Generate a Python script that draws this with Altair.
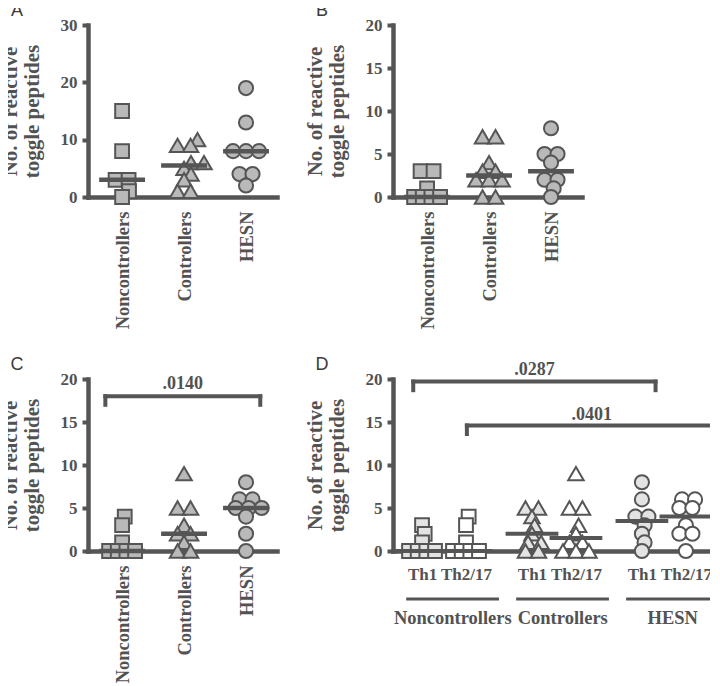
import altair as alt
import pandas as pd
import numpy as np

# ---------------- data ----------------
groups = ["Noncontrollers", "Controllers", "HESN"]
group_shapes = ["square", "triangle-up", "circle"]

A_values = [[15, 8, 3, 3, 1, 0],
            [10, 9, 9, 6, 6, 5, 4, 3, 1, 1],
            [19, 13, 8, 8, 8, 4, 4, 2]]
B_values = [[3, 3, 1, 0, 0, 0, 0],
            [7, 7, 4, 3, 3, 2, 2, 2, 0, 0],
            [8, 5, 5, 4, 2, 2, 1, 0]]
C_values = [[4, 3, 1, 0, 0, 0, 0],
            [9, 5, 5, 3, 2, 2, 1, 0, 0],
            [8, 6, 6, 5, 5, 5, 4, 2, 0]]

D_subsets = ["Th1", "Th2/17"]
D_values = [[[3, 2, 1, 0, 0, 0, 0], [4, 3, 1, 0, 0, 0, 0]],
            [[5, 5, 4, 3, 2, 1, 1, 0, 0], [9, 5, 5, 3, 2, 1, 1, 0, 0, 0]],
            [[8, 6, 4, 4, 3, 2, 1, 0], [6, 6, 5, 5, 3, 2, 2, 0]]]

A_ticks = [0, 10, 20, 30]
BCD_ticks = [0, 5, 10, 15, 20]

# significance brackets: start, end, height, drop-to, label height, label
C_brackets = {"x1": [-0.27], "x2": [2.23], "y": [18], "ydrop": [17], "ylab": [19.4], "label": [".0140"]}
D_brackets = {"x1": [-0.2, 1.02], "x2": [5.31, 6.7], "y": [19.7, 14.6], "ydrop": [18.7, 13.6],
              "ylab": [21.0, 15.8], "label": [".0287", ".0401"]}

# ---------------- styling ----------------
INK = "#555555"
TEXT = "#525252"
FILL_MAIN = "#b9b9b9"
FILL_TH1 = "#e3e3e3"
FILL_TH2 = "#ffffff"
SERIF = "Liberation Serif"
H = 172
Y_TITLE = ["No. of reactive", "toggle peptides"]
SHAPE_SIZE = {"square": 190, "circle": 200, "triangle-up": 240}


def swarm(vals, ypx, d=9.0, spacing=13.0, maxspan=26.0):
    """Greedy beeswarm: equal values side by side, rows nudged to avoid overlap (offsets in px)."""
    placed = []
    offs_by_val = {}
    for v in sorted(set(vals)):
        n = vals.count(v)
        sp = spacing if n <= 3 else maxspan / (n - 1)
        members = [(i - (n - 1) / 2) * sp for i in range(n)]
        y = v * ypx
        cands = {0.0}
        for px, py in placed:
            dy = abs(py - y)
            if dy < d:
                dx = (d * d - dy * dy) ** 0.5
                for m in members:
                    cands.add(px - m + dx)
                    cands.add(px - m - dx)

        def ok(c):
            for px, py in placed:
                for m in members:
                    if (px - (c + m)) ** 2 + (py - y) ** 2 < d * d - 1e-6:
                        return False
            return True

        c = next(c for c in sorted(cands, key=lambda c: (abs(c), -c)) if ok(c))
        offs_by_val[v] = [c + m for m in members]
        placed += [(c + m, y) for m in members]
    out, used = [], {}
    for v in vals:
        i = used.get(v, 0)
        used[v] = i + 1
        out.append(offs_by_val[v][i])
    return out


def label_expr(positions, labels):
    expr = "''"
    for p, l in zip(positions, labels):
        expr = f"datum.value == {p} ? '{l}' : ({expr})"
    return expr


def bracket_layers(br, xscale, yscale):
    segs = []
    for x1, x2, y, yd in zip(br["x1"], br["x2"], br["y"], br["ydrop"]):
        segs.append(dict(a=x1, b=x2, c=y, d=y))
        segs.append(dict(a=x1, b=x1, c=y, d=yd))
        segs.append(dict(a=x2, b=x2, c=y, d=yd))
    seg_df = pd.DataFrame(segs)
    lab_df = pd.DataFrame({"xm": [(a + b) / 2 for a, b in zip(br["x1"], br["x2"])],
                           "ylab": br["ylab"], "label": br["label"]})
    rules = alt.Chart(seg_df).mark_rule(color=INK, strokeWidth=4, strokeCap="square").encode(
        x=alt.X("a:Q", scale=xscale), x2="b:Q",
        y=alt.Y("c:Q", scale=yscale), y2="d:Q")
    texts = alt.Chart(lab_df).mark_text(font=SERIF, fontWeight="bold", fontSize=18, color=TEXT,
                                        baseline="middle").encode(
        x=alt.X("xm:Q", scale=xscale),
        y=alt.Y("ylab:Q", scale=yscale), text="label:N")
    return [rules, texts]


def letter_layer(letter):
    return alt.Chart(pd.DataFrame({"letter": [letter]})).mark_text(
        font="Liberation Sans", fontSize=18, color="#3a3a3a", align="center", baseline="middle"
    ).encode(x=alt.value(-71), y=alt.value(-14), text="letter:N")


def y_axis(ticks):
    return alt.Axis(values=ticks, title=Y_TITLE, titleFontSize=21, titleLineHeight=22,
                    titlePadding=18, labelFontSize=17, labelPadding=5, tickSize=6, tickWidth=4)


def point_layer(pts, xscale, yscale, xaxis, ticks):
    return alt.Chart(pts).mark_point(filled=True, opacity=1, stroke=INK, strokeWidth=2).encode(
        x=alt.X("x:Q", scale=xscale, axis=xaxis),
        y=alt.Y("value:Q", scale=yscale, axis=y_axis(ticks)),
        shape=alt.Shape("shape:N", scale=None),
        fill=alt.Fill("fill:N", scale=None),
        size=alt.Size("sz:Q", scale=None),
    )


def simple_panel(values, ymax, ticks, letter, brackets=None):
    width = 189
    dom = [-0.55, 2.5]
    ppu = width / (dom[1] - dom[0])
    ypx = H / ymax
    xscale = alt.Scale(domain=dom, nice=False, zero=False)
    yscale = alt.Scale(domain=[0, ymax], nice=False, zero=True)
    pts, meds = [], []
    for g, (shp, vals) in enumerate(zip(group_shapes, values)):
        for v, o in zip(vals, swarm(vals, ypx)):
            pts.append(dict(x=g + o / ppu, value=v, shape=shp, fill=FILL_MAIN, sz=SHAPE_SIZE[shp]))
        meds.append(dict(x1=g - 0.37, x2=g + 0.37, median=float(np.median(vals))))
    xaxis = alt.Axis(values=[0, 1, 2], labelExpr=label_expr([0, 1, 2], groups), labelAngle=270,
                     labelFontSize=18.5, labelPadding=14, ticks=False, title=None,
                     labelFlush=False, labelOverlap=False)
    points = point_layer(pd.DataFrame(pts), xscale, yscale, xaxis, ticks)
    medrule = alt.Chart(pd.DataFrame(meds)).mark_rule(color=INK, strokeWidth=4.5).encode(
        x=alt.X("x1:Q", scale=xscale), x2="x2:Q",
        y=alt.Y("median:Q", scale=yscale))
    layers = [points, medrule]
    if brackets:
        layers += bracket_layers(brackets, xscale, yscale)
    layers.append(letter_layer(letter))
    return alt.layer(*layers).properties(width=width, height=H)


def d_panel():
    width = 325
    dom = [-0.66, 6.73]
    ppu = width / (dom[1] - dom[0])
    ypx = H / 20
    xscale = alt.Scale(domain=dom, nice=False, zero=False)
    yscale = alt.Scale(domain=[0, 20], nice=False, zero=True)
    pts, meds, positions, sublabels = [], [], [], []
    glines, glabels = [], []
    for g, (shp, pair) in enumerate(zip(group_shapes, D_values)):
        base = g * 2.5
        glines.append(dict(a=base - 0.36, b=base + 1.75))
        glabels.append(dict(xm=base + 0.7, name=groups[g]))
        for s, (sub, vals) in enumerate(zip(D_subsets, pair)):
            pos = base + s
            positions.append(pos)
            sublabels.append(sub)
            fill = FILL_TH1 if s == 0 else FILL_TH2
            for v, o in zip(vals, swarm(vals, ypx)):
                pts.append(dict(x=pos + o / ppu, value=v, shape=shp, fill=fill, sz=SHAPE_SIZE[shp]))
            meds.append(dict(x1=pos - 0.6, x2=pos + 0.6, median=float(np.median(vals))))
    xaxis = alt.Axis(values=positions, labelExpr=label_expr(positions, sublabels), labelAngle=0,
                     labelFontSize=17, labelPadding=15, ticks=False, title=None,
                     labelFlush=False, labelOverlap=False)
    points = point_layer(pd.DataFrame(pts), xscale, yscale, xaxis, BCD_ticks)
    medrule = alt.Chart(pd.DataFrame(meds)).mark_rule(color=INK, strokeWidth=4).encode(
        x=alt.X("x1:Q", scale=xscale), x2="x2:Q",
        y=alt.Y("median:Q", scale=yscale))
    gl = alt.Chart(pd.DataFrame(glines)).mark_rule(color=INK, strokeWidth=3).encode(
        x=alt.X("a:Q", scale=xscale), x2="b:Q", y=alt.value(H + 48))
    gt = alt.Chart(pd.DataFrame(glabels)).mark_text(font=SERIF, fontWeight="bold", fontSize=18.5,
                                                    color=TEXT, baseline="middle").encode(
        x=alt.X("xm:Q", scale=xscale), y=alt.value(H + 67), text="name:N")
    layers = [points, medrule] + bracket_layers(D_brackets, xscale, yscale) + [gl, gt, letter_layer("D")]
    return alt.layer(*layers).properties(width=width, height=H)


A = simple_panel(A_values, 30, A_ticks, "A")
B = simple_panel(B_values, 20, BCD_ticks, "B")
C = simple_panel(C_values, 20, BCD_ticks, "C", C_brackets)
D = d_panel()

chart = alt.vconcat(
    alt.hconcat(A, B, spacing=25),
    alt.hconcat(C, D, spacing=25),
    spacing=25,
).properties(
    padding={"left": -10, "top": -7, "right": -11, "bottom": 0}
).configure_view(
    stroke="transparent"
).configure_axis(
    domainColor=INK, domainWidth=4.5, domainCap="square", tickColor=INK,
    labelFont=SERIF, labelFontWeight="bold", labelColor=TEXT,
    titleFont=SERIF, titleFontWeight="bold", titleColor=TEXT, grid=False,
)

chart.save("out.html", embed_options={"renderer": "svg", "actions": False})
